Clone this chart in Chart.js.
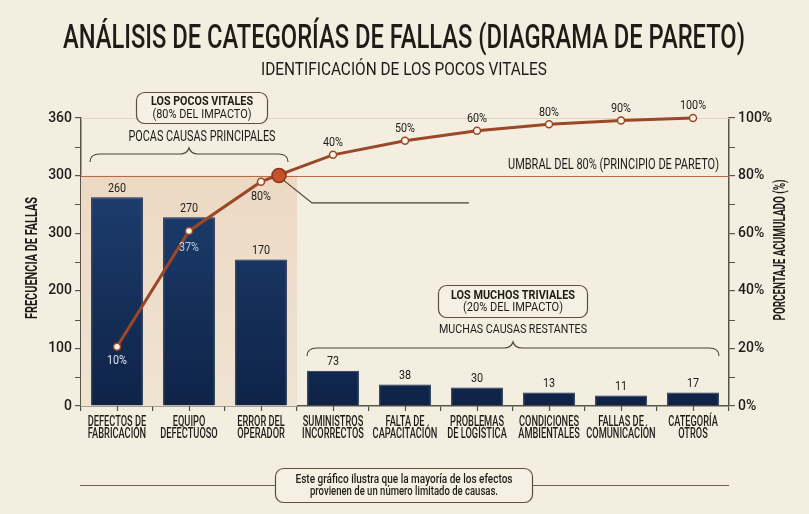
<!DOCTYPE html>
<html>
<head>
<meta charset="utf-8">
<title>Análisis de categorías de fallas</title>
<script src="https://cdn.jsdelivr.net/npm/chart.js@4.4.1/dist/chart.umd.min.js"></script>
<style>
  html, body { margin: 0; padding: 0; background: #f3eee0; }
  #wrap { position: relative; width: 809px; height: 514px; }
</style>
</head>
<body>
<div id="wrap"><canvas id="paretoChart"></canvas></div>
<script>
// datos
const categories = [
  ['DEFECTOS DE', 'FABRICACIÓN'], ['EQUIPO', 'DEFECTUOSO'], ['ERROR DEL', 'OPERADOR'],
  ['SUMINISTROS', 'INCORRECTOS'], ['FALTA DE', 'CAPACITACIÓN'], ['PROBLEMAS', 'DE LOGÍSTICA'],
  ['CONDICIONES', 'AMBIENTALES'], ['FALLAS DE', 'COMUNICACIÓN'], ['CATEGORÍA', 'OTROS']
];
const failures = [261, 236, 183, 44, 27, 23, 17, 13, 17];
const failureLabels = ['260', '270', '170', '73', '38', '30', '13', '11', '17'];
const cumulative = [20.6, 60.8, 77.9, 87.2, 92.1, 95.6, 97.8, 99.1, 100];
const cumulativeLabels = ['10%', '37%', '80%', '40%', '50%', '60%', '80%', '90%', '100%'];
const leftTickLabels = ['0', '100', '200', '300', '300', '360'];
const rightTickLabels = ['0%', '20%', '40%', '60%', '80%', '100%'];
const threshold = 80;

const FAM = 'Roboto, sans-serif';
const INK = '#1f1c18';
const AXIS = '#5a5347';
const BROWN = '#9a4827';

function font(size, weight) {
  return (weight || 'normal') + ' ' + size + 'px ' + FAM;
}

// texto estrecho: sq = escala horizontal, o ancho fijo si sq > 1
function txt(ctx, s, x, y, f, color, align, sq) {
  ctx.save();
  ctx.font = f;
  ctx.fillStyle = color;
  ctx.textBaseline = 'middle';
  ctx.textAlign = align || 'center';
  let k = sq || 0.8;
  if (k > 1) k = k / ctx.measureText(s).width;
  ctx.translate(x, y);
  ctx.scale(k, 1);
  ctx.fillText(s, 0, 0);
  ctx.restore();
}

function roundBox(ctx, x, y, w, h, r) {
  ctx.beginPath();
  ctx.roundRect(x, y, w, h, r);
  ctx.fillStyle = '#f5f0e3';
  ctx.fill();
  ctx.strokeStyle = '#5a5042';
  ctx.lineWidth = 1.2;
  ctx.stroke();
}

function brace(ctx, x1, x2, y) {
  const mid = (x1 + x2) / 2;
  ctx.beginPath();
  ctx.moveTo(x1, y + 8);
  ctx.quadraticCurveTo(x1, y, x1 + 10, y);
  ctx.lineTo(mid - 9, y);
  ctx.quadraticCurveTo(mid - 2, y, mid, y - 6);
  ctx.quadraticCurveTo(mid + 2, y, mid + 9, y);
  ctx.lineTo(x2 - 10, y);
  ctx.quadraticCurveTo(x2, y, x2, y + 8);
  ctx.strokeStyle = '#4a4238';
  ctx.lineWidth = 1.2;
  ctx.stroke();
}

const decor = {
  id: 'decor',
  beforeDraw(chart) {
    const ctx = chart.ctx;
    ctx.save();
    ctx.fillStyle = '#f3eee0';
    ctx.fillRect(0, 0, chart.width, chart.height);
    txt(ctx, 'ANÁLISIS DE CATEGORÍAS DE FALLAS (DIAGRAMA DE PARETO)', 404, 40, font(33, '500'), INK, 'center', 682);
    txt(ctx, 'IDENTIFICACIÓN DE LOS POCOS VITALES', 404, 70, font(18, 'normal'), INK, 'center', 286);

    // pie
    ctx.strokeStyle = '#6a6254';
    ctx.lineWidth = 1;
    ctx.beginPath();
    ctx.moveTo(80, 485.5); ctx.lineTo(275, 485.5);
    ctx.moveTo(533, 485.5); ctx.lineTo(729, 485.5);
    ctx.stroke();
    roundBox(ctx, 275.5, 468.5, 257, 34, 8);
    txt(ctx, 'Este gráfico ilustra que la mayoría de los efectos', 404, 480, font(12, '500'), INK, 'center', 217);
    txt(ctx, 'provienen de un número limitado de causas.', 404, 492, font(12, '500'), INK, 'center', 188);
    ctx.restore();
  },
  beforeDatasetsDraw(chart) {
    const {ctx, chartArea: a, scales: {x, y1}} = chart;
    const step = x.getPixelForValue(1) - x.getPixelForValue(0);
    const yT = y1.getPixelForValue(threshold);
    ctx.save();
    // zona de los pocos vitales
    const xr = x.getPixelForValue(2) + step / 2;
    const g = ctx.createLinearGradient(0, yT, 0, a.bottom);
    g.addColorStop(0, '#ecd9c4');
    g.addColorStop(1, '#efe3d2');
    ctx.fillStyle = g;
    ctx.fillRect(a.left, yT, xr - a.left, a.bottom - yT);
    // linea del 100%
    ctx.strokeStyle = '#ddd4c2';
    ctx.lineWidth = 1;
    ctx.beginPath();
    ctx.moveTo(a.left, Math.round(y1.getPixelForValue(100)) + 0.5);
    ctx.lineTo(a.right, Math.round(y1.getPixelForValue(100)) + 0.5);
    ctx.stroke();
    // umbral del 80%
    ctx.strokeStyle = '#b86a48';
    ctx.beginPath();
    ctx.moveTo(a.left, Math.round(yT) + 0.5);
    ctx.lineTo(a.right, Math.round(yT) + 0.5);
    ctx.stroke();
    txt(ctx, 'UMBRAL DEL 80% (PRINCIPIO DE PARETO)', a.right - 10, yT - 10, font(14), INK, 'right', 211);
    ctx.restore();
  },
  afterDatasetsDraw(chart) {
    const {ctx, chartArea: a, scales: {x, y, y1}} = chart;
    const step = x.getPixelForValue(1) - x.getPixelForValue(0);
    ctx.save();

    // etiquetas de categorias
    categories.forEach((c, i) => {
      const px = x.getPixelForValue(i);
      txt(ctx, c[0], px, a.bottom + 16, font(14, '500'), INK, 'center', 0.66);
      txt(ctx, c[1], px, a.bottom + 28, font(14, '500'), INK, 'center', 0.66);
    });

    // valores de las barras
    failures.forEach((v, i) => {
      txt(ctx, failureLabels[i], x.getPixelForValue(i), y.getPixelForValue(v) - 9, font(13.5), INK, 'center', 0.8);
    });
    // porcentajes acumulados
    cumulative.forEach((v, i) => {
      const px = x.getPixelForValue(i), py = y1.getPixelForValue(v);
      if (i === 0) txt(ctx, cumulativeLabels[i], px, py + 14, font(13.5), '#dfe5f0', 'center', 0.8);
      else if (i === 1) txt(ctx, cumulativeLabels[i], px, py + 17, font(13.5), '#b9cbe8', 'center', 0.8);
      else if (i === 2) txt(ctx, cumulativeLabels[i], px, py + 15, font(13.5), INK, 'center', 0.8);
      else txt(ctx, cumulativeLabels[i], px, py - 12, font(13.5), INK, 'center', 0.8);
    });

    // marcador del 80%
    const mx = x.getPixelForValue(2) + step / 4, my = y1.getPixelForValue(threshold);
    ctx.strokeStyle = '#4a4238';
    ctx.lineWidth = 1.2;
    ctx.beginPath();
    ctx.moveTo(mx + 5, my + 5);
    ctx.lineTo(mx + 33, y1.getPixelForValue(70.5));
    ctx.lineTo(mx + 190, y1.getPixelForValue(70.5));
    ctx.stroke();
    ctx.beginPath();
    ctx.arc(mx, my, 7, 0, Math.PI * 2);
    ctx.fillStyle = '#c4532b';
    ctx.fill();
    ctx.strokeStyle = '#8a3418';
    ctx.lineWidth = 1.5;
    ctx.stroke();

    // ticks menores
    ctx.strokeStyle = AXIS;
    ctx.lineWidth = 1.2;
    ctx.beginPath();
    for (let i = 0; i < 5; i++) {
      const yy = Math.round(y.getPixelForValue(36 + 72 * i)) + 0.5;
      ctx.moveTo(a.left - 6, yy); ctx.lineTo(a.left, yy);
      const yr = Math.round(y1.getPixelForValue(10 + 20 * i)) + 0.5;
      ctx.moveTo(a.right, yr); ctx.lineTo(a.right + 6, yr);
    }
    categories.forEach((c, i) => {
      const xx = Math.round(x.getPixelForValue(i)) + 0.5;
      ctx.moveTo(xx, a.bottom); ctx.lineTo(xx, a.bottom + 5);
    });
    ctx.stroke();

    // anotaciones
    const cL = (x.getPixelForValue(0) + x.getPixelForValue(2)) / 2 + 13;
    roundBox(ctx, cL - 65.5, 92.5, 131, 31, 8);
    txt(ctx, 'LOS POCOS VITALES', cL, 102, font(12.5, 'bold'), INK, 'center', 102);
    txt(ctx, '(80% DEL IMPACTO)', cL, 114.5, font(13), INK, 'center', 99);
    txt(ctx, 'POCAS CAUSAS PRINCIPALES', cL, 137, font(14), INK, 'center', 147);
    brace(ctx, x.getPixelForValue(0) - 27, x.getPixelForValue(2) + 27, 154);

    const cR = (x.getPixelForValue(3) + x.getPixelForValue(8)) / 2;
    roundBox(ctx, cR - 74.5, 285.5, 149, 32, 8);
    txt(ctx, 'LOS MUCHOS TRIVIALES', cR, 296, font(12.5, 'bold'), INK, 'center', 124);
    txt(ctx, '(20% DEL IMPACTO)', cR, 308, font(13), INK, 'center', 100);
    txt(ctx, 'MUCHAS CAUSAS RESTANTES', cR, 330, font(13.5), INK, 'center', 148);
    brace(ctx, x.getPixelForValue(3) - 26, x.getPixelForValue(8) + 26, 348);

    // titulos de ejes
    ctx.save();
    ctx.translate(33, 258);
    ctx.rotate(-Math.PI / 2);
    txt(ctx, 'FRECUENCIA DE FALLAS', 0, 0, font(16, 'bold'), INK, 'center', 122);
    ctx.restore();
    ctx.translate(781, 250);
    ctx.rotate(-Math.PI / 2);
    txt(ctx, 'PORCENTAJE ACUMULADO (%)', 0, 0, font(16, 'bold'), INK, 'center', 141);
    ctx.restore();
  }
};

new Chart(document.getElementById('paretoChart'), {
  type: 'bar',
  data: {
    labels: categories,
    datasets: [{
      type: 'line',
      label: 'Porcentaje acumulado',
      data: cumulative,
      yAxisID: 'y1',
      order: 0,
      borderColor: BROWN,
      borderWidth: 3,
      tension: 0,
      pointRadius: 3.5,
      pointBackgroundColor: '#fbf4e8',
      pointBorderColor: BROWN,
      pointBorderWidth: 1.5,
      clip: false
    }, {
      type: 'bar',
      label: 'Frecuencia de fallas',
      data: failures,
      yAxisID: 'y',
      order: 1,
      barPercentage: 0.72,
      categoryPercentage: 1,
      borderColor: '#142848',
      borderWidth: 1,
      borderSkipped: 'bottom',
      backgroundColor: (c) => {
        const a = c.chart.chartArea;
        if (!a) return '#1b3963';
        const g = c.chart.ctx.createLinearGradient(0, a.top, 0, a.bottom);
        g.addColorStop(0, '#21457a');
        g.addColorStop(1, '#0f2347');
        return g;
      }
    }]
  },
  options: {
    responsive: true,
    maintainAspectRatio: false,
    animation: false,
    layout: { padding: { top: 118, left: 0, right: 0, bottom: 0 } },
    plugins: { legend: { display: false }, tooltip: { enabled: false } },
    scales: {
      x: {
        offset: true,
        afterFit: (s) => { s.height = 108; },
        grid: { display: true, drawOnChartArea: false, offset: true, tickLength: 5, color: AXIS, lineWidth: 1.2 },
        border: { color: AXIS, width: 1.5 },
        ticks: { display: false }
      },
      y: {
        position: 'left',
        min: 0, max: 360,
        afterFit: (s) => { s.width = 81; },
        grid: { drawOnChartArea: false, tickLength: 6, color: AXIS, lineWidth: 1.2 },
        border: { color: AXIS, width: 1.5 },
        ticks: { stepSize: 72, color: INK, font: { family: FAM, size: 14, weight: '500' }, padding: 3,
                 callback: (v, i) => leftTickLabels[i] }
      },
      y1: {
        position: 'right',
        min: 0, max: 100,
        afterFit: (s) => { s.width = 80; },
        grid: { drawOnChartArea: false, tickLength: 6, color: AXIS, lineWidth: 1.2 },
        border: { color: AXIS, width: 1.5 },
        ticks: { stepSize: 20, color: INK, font: { family: FAM, size: 14, weight: '500' }, padding: 3,
                 callback: (v, i) => rightTickLabels[i] }
      }
    }
  },
  plugins: [decor]
});
</script>
</body>
</html>
